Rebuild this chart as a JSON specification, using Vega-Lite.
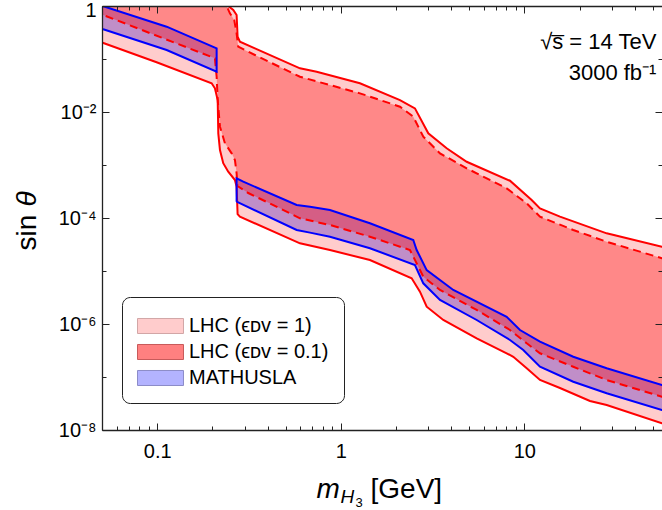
{
  "$schema": "https://vega.github.io/schema/vega-lite/v6.json",
  "width": 560,
  "height": 424,
  "autosize": "none",
  "padding": {"left": 102, "top": 6, "right": 0, "bottom": 80},
  "config": {"view": {"stroke": null}, "font": "Liberation Sans"},
  "datasets": {
    "poly": [
      {"p":"L1","o":1,"x":0.045,"y":0.2344},
      {"p":"L1","o":2,"x":0.0504,"y":0.203},
      {"p":"L1","o":3,"x":0.0992,"y":0.087},
      {"p":"L1","o":4,"x":0.1979,"y":0.0348},
      {"p":"L1","o":5,"x":0.2062,"y":0.028},
      {"p":"L1","o":6,"x":0.2135,"y":0.0168},
      {"p":"L1","o":7,"x":0.2151,"y":0.00396},
      {"p":"L1","o":8,"x":0.2197,"y":0.00192},
      {"p":"L1","o":9,"x":0.2289,"y":0.00108},
      {"p":"L1","o":10,"x":0.2437,"y":0.000747},
      {"p":"L1","o":11,"x":0.2651,"y":0.000521},
      {"p":"L1","o":12,"x":0.2707,"y":0.00039},
      {"p":"L1","o":13,"x":0.2741,"y":0.000118},
      {"p":"L1","o":14,"x":0.2822,"y":0.000106},
      {"p":"L1","o":15,"x":0.5994,"y":0.0000333},
      {"p":"L1","o":16,"x":0.8731,"y":0.0000249},
      {"p":"L1","o":17,"x":1.442,"y":0.0000161},
      {"p":"L1","o":18,"x":2.434,"y":7.29e-6},
      {"p":"L1","o":19,"x":2.701,"y":4.07e-6},
      {"p":"L1","o":20,"x":2.939,"y":2.12e-6},
      {"p":"L1","o":21,"x":3.62,"y":1.19e-6},
      {"p":"L1","o":22,"x":5.504,"y":5.37e-7},
      {"p":"L1","o":23,"x":8.018,"y":2.8e-7},
      {"p":"L1","o":24,"x":8.712,"y":2.41e-7},
      {"p":"L1","o":25,"x":10.31,"y":1.46e-7},
      {"p":"L1","o":26,"x":12.18,"y":8.78e-8},
      {"p":"L1","o":27,"x":15.65,"y":6.2e-8},
      {"p":"L1","o":28,"x":22.8,"y":3.52e-8},
      {"p":"L1","o":29,"x":28.12,"y":2.96e-8},
      {"p":"L1","o":30,"x":56.3,"y":1.34e-8},
      {"p":"L1","o":31,"x":62.2,"y":1.2e-8},
      {"p":"L1","o":32,"x":62.2,"y":2.6e-5},
      {"p":"L1","o":33,"x":56.3,"y":2.87e-5},
      {"p":"L1","o":34,"x":28.12,"y":5.14e-5},
      {"p":"L1","o":35,"x":15.65,"y":0.000106},
      {"p":"L1","o":36,"x":12.18,"y":0.000152},
      {"p":"L1","o":37,"x":10.97,"y":0.000219},
      {"p":"L1","o":38,"x":8.357,"y":0.000505},
      {"p":"L1","o":39,"x":4.855,"y":0.00115},
      {"p":"L1","o":40,"x":3.777,"y":0.00207},
      {"p":"L1","o":41,"x":2.999,"y":0.00396},
      {"p":"L1","o":42,"x":2.537,"y":0.0117},
      {"p":"L1","o":43,"x":2.102,"y":0.0168},
      {"p":"L1","o":44,"x":1.272,"y":0.0348},
      {"p":"L1","o":45,"x":0.7392,"y":0.0576},
      {"p":"L1","o":46,"x":0.5994,"y":0.0667},
      {"p":"L1","o":47,"x":0.3406,"y":0.159},
      {"p":"L1","o":48,"x":0.2822,"y":0.212},
      {"p":"L1","o":49,"x":0.2741,"y":0.2635},
      {"p":"L1","o":50,"x":0.2707,"y":0.676},
      {"p":"L1","o":51,"x":0.2596,"y":0.84},
      {"p":"L1","o":52,"x":0.2437,"y":1.0},
      {"p":"L1","o":53,"x":0.2252,"y":3.09},
      {"p":"L1","o":54,"x":0.045,"y":3.09},

      {"p":"L01","o":1,"x":0.045,"y":0.798},
      {"p":"L01","o":2,"x":0.0508,"y":0.676},
      {"p":"L01","o":3,"x":0.2062,"y":0.1031},
      {"p":"L01","o":4,"x":0.2107,"y":0.0463},
      {"p":"L01","o":5,"x":0.2135,"y":0.0168},
      {"p":"L01","o":6,"x":0.2197,"y":0.00528},
      {"p":"L01","o":7,"x":0.2338,"y":0.00257},
      {"p":"L01","o":8,"x":0.2543,"y":0.00166},
      {"p":"L01","o":9,"x":0.2651,"y":0.00124},
      {"p":"L01","o":10,"x":0.2707,"y":0.000697},
      {"p":"L01","o":11,"x":0.2735,"y":0.000402},
      {"p":"L01","o":12,"x":0.3132,"y":0.000296},
      {"p":"L01","o":13,"x":0.4664,"y":0.000152},
      {"p":"L01","o":14,"x":0.5994,"y":0.0000987},
      {"p":"L01","o":15,"x":0.8731,"y":0.0000738},
      {"p":"L01","o":16,"x":1.442,"y":0.0000444},
      {"p":"L01","o":17,"x":2.383,"y":0.0000249},
      {"p":"L01","o":18,"x":2.644,"y":0.0000121},
      {"p":"L01","o":19,"x":2.817,"y":7.81e-6},
      {"p":"L01","o":20,"x":3.473,"y":4.38e-6},
      {"p":"L01","o":21,"x":5.504,"y":1.84e-6},
      {"p":"L01","o":22,"x":8.357,"y":7.7e-7},
      {"p":"L01","o":23,"x":10.31,"y":4.32e-7},
      {"p":"L01","o":24,"x":12.18,"y":2.8e-7},
      {"p":"L01","o":25,"x":18.49,"y":1.56e-7},
      {"p":"L01","o":26,"x":28.12,"y":8.78e-8},
      {"p":"L01","o":27,"x":56.3,"y":4.25e-8},
      {"p":"L01","o":28,"x":62.2,"y":3.85e-8},
      {"p":"L01","o":29,"x":62.2,"y":1.55e-5},
      {"p":"L01","o":30,"x":56.3,"y":1.74e-5},
      {"p":"L01","o":31,"x":28.12,"y":3.57e-5},
      {"p":"L01","o":32,"x":18.49,"y":5.94e-5},
      {"p":"L01","o":33,"x":12.18,"y":0.000106},
      {"p":"L01","o":34,"x":10.31,"y":0.000189},
      {"p":"L01","o":35,"x":8.018,"y":0.000363},
      {"p":"L01","o":36,"x":4.855,"y":0.000866},
      {"p":"L01","o":37,"x":3.473,"y":0.00166},
      {"p":"L01","o":38,"x":2.817,"y":0.00342},
      {"p":"L01","o":39,"x":2.484,"y":0.00815},
      {"p":"L01","o":40,"x":2.102,"y":0.0126},
      {"p":"L01","o":41,"x":1.272,"y":0.0225},
      {"p":"L01","o":42,"x":0.5994,"y":0.0463},
      {"p":"L01","o":43,"x":0.3406,"y":0.119},
      {"p":"L01","o":44,"x":0.3132,"y":0.137},
      {"p":"L01","o":45,"x":0.2762,"y":0.171},
      {"p":"L01","o":46,"x":0.2707,"y":0.305},
      {"p":"L01","o":47,"x":0.2628,"y":0.544},
      {"p":"L01","o":48,"x":0.2489,"y":0.728},
      {"p":"L01","o":49,"x":0.2388,"y":1.0},
      {"p":"L01","o":50,"x":0.2224,"y":3.0},
      {"p":"L01","o":51,"x":0.045,"y":3.0},

      {"p":"M1","o":1,"x":0.045,"y":1.159},
      {"p":"M1","o":2,"x":0.0504,"y":1.0},
      {"p":"M1","o":3,"x":0.1125,"y":0.407},
      {"p":"M1","o":4,"x":0.2107,"y":0.159},
      {"p":"M1","o":5,"x":0.2107,"y":0.0576},
      {"p":"M1","o":6,"x":0.1125,"y":0.148},
      {"p":"M1","o":7,"x":0.0508,"y":0.363},
      {"p":"M1","o":8,"x":0.045,"y":0.421},

      {"p":"M2","o":1,"x":0.2707,"y":0.000203},
      {"p":"M2","o":2,"x":0.2707,"y":0.000561},
      {"p":"M2","o":3,"x":0.2942,"y":0.000484},
      {"p":"M2","o":4,"x":0.575,"y":0.000176},
      {"p":"M2","o":5,"x":0.6795,"y":0.000163},
      {"p":"M2","o":6,"x":0.8731,"y":0.000142},
      {"p":"M2","o":7,"x":1.442,"y":0.0000794},
      {"p":"M2","o":8,"x":2.484,"y":0.0000384},
      {"p":"M2","o":9,"x":2.592,"y":0.0000249},
      {"p":"M2","o":10,"x":2.939,"y":0.0000104},
      {"p":"M2","o":11,"x":4.104,"y":4.38e-6},
      {"p":"M2","o":12,"x":8.018,"y":1.37e-6},
      {"p":"M2","o":13,"x":9.476,"y":7.7e-7},
      {"p":"M2","o":14,"x":12.18,"y":4.63e-7},
      {"p":"M2","o":15,"x":18.49,"y":2.41e-7},
      {"p":"M2","o":16,"x":28.12,"y":1.46e-7},
      {"p":"M2","o":17,"x":56.3,"y":7.06e-8},
      {"p":"M2","o":18,"x":62.2,"y":6.34e-8},
      {"p":"M2","o":19,"x":62.2,"y":2.14e-8},
      {"p":"M2","o":20,"x":56.3,"y":2.38e-8},
      {"p":"M2","o":21,"x":28.12,"y":4.93e-8},
      {"p":"M2","o":22,"x":18.49,"y":8.15e-8},
      {"p":"M2","o":23,"x":12.18,"y":1.56e-7},
      {"p":"M2","o":24,"x":9.876,"y":3.23e-7},
      {"p":"M2","o":25,"x":8.357,"y":4.99e-7},
      {"p":"M2","o":26,"x":5.504,"y":1.19e-6},
      {"p":"M2","o":27,"x":3.473,"y":2.84e-6},
      {"p":"M2","o":28,"x":2.817,"y":5.86e-6},
      {"p":"M2","o":29,"x":2.537,"y":1.3e-5},
      {"p":"M2","o":30,"x":1.442,"y":2.68e-5},
      {"p":"M2","o":31,"x":0.8731,"y":4.44e-5},
      {"p":"M2","o":32,"x":0.6795,"y":5.3e-5},
      {"p":"M2","o":33,"x":0.575,"y":5.94e-5},
      {"p":"M2","o":34,"x":0.2707,"y":0.000203}
    ]
  },
  "resolve": {"axis": {"x": "independent", "y": "independent"}, "scale": {"fill": "independent", "stroke": "independent"}},
  "layer": [
    {
      "data": {"name": "poly"},
      "transform": [{"filter": "datum.p == 'L1'"}],
      "mark": {"type": "line", "strokeWidth": 0, "fillOpacity": 1, "clip": true},
      "encoding": {
        "x": {"field": "x", "type": "quantitative", "scale": {"type": "log", "domain": [0.05, 56.3], "nice": false},
          "axis": {"orient": "bottom", "values": [0.1, 1, 10], "labelExpr": "datum.value < 0.5 ? '0.1' : datum.value < 5 ? '1' : '10'", "tickSize": -7, "tickColor": "#222", "tickWidth": 1, "domainColor": "#222", "domainWidth": 1.3, "labelFontSize": 20, "labelColor": "#000", "labelPadding": 18, "labelFlush": false, "grid": false, "zindex": 2,
            "title": "m", "titleFontStyle": "italic", "titleFontWeight": "normal", "titleFontSize": 28, "titleColor": "#000", "titleAlign": "left", "titleBaseline": "alphabetic", "titleAnchor": null, "titleX": 214, "titleY": 67}},
        "y": {"field": "y", "type": "quantitative", "scale": {"type": "log", "domain": [1e-8, 1], "nice": false},
          "axis": {"orient": "left", "values": [1, 0.01, 0.0001, 0.000001, 0.00000001], "labelExpr": "datum.value > 0.5 ? '1' : datum.value > 1e-3 ? '10⁻²' : datum.value > 1e-5 ? '10⁻⁴' : datum.value > 1e-7 ? '10⁻⁶' : '10⁻⁸'", "tickSize": -7, "tickColor": "#222", "tickWidth": 1, "domainColor": "#222", "domainWidth": 1.3, "labelFontSize": 20, "labelColor": "#000", "labelPadding": 13, "labelFlush": false, "grid": false, "zindex": 2,
            "labelOffset": {"condition": {"test": "datum.value > 0.5", "value": 4}, "value": 0},
            "title": "sin", "titleFontWeight": "normal", "titleFontSize": 28, "titleColor": "#000", "titleAngle": 270, "titleAlign": "left", "titleBaseline": "alphabetic", "titleAnchor": null, "titleX": -67, "titleY": 244}},
        "fill": {"field": "p", "type": "nominal", "scale": {"domain": ["L1"], "range": ["#ffcccc"]}, "legend": null},
        "order": {"field": "o", "type": "quantitative"}
      }
    },
    {
      "data": {"name": "poly"},
      "transform": [{"filter": "datum.p == 'M1' || datum.p == 'M2'"}],
      "mark": {"type": "line", "strokeWidth": 0, "fillOpacity": 0.3, "clip": true},
      "encoding": {
        "x": {"field": "x", "type": "quantitative", "scale": {"type": "log", "domain": [0.05, 56.3], "nice": false},
          "axis": {"orient": "bottom", "values": [0.05, 0.06, 0.07, 0.08, 0.09, 0.2, 0.3, 0.4, 0.5, 0.6, 0.7, 0.8, 0.9, 2, 3, 4, 5, 6, 7, 8, 9, 20, 30, 40, 50], "labels": false, "domain": false, "tickSize": -4, "tickColor": "#222", "tickWidth": 1, "grid": false, "zindex": 2,
            "title": "H", "titleFontStyle": "italic", "titleFontWeight": "normal", "titleFontSize": 19, "titleColor": "#000", "titleAlign": "left", "titleBaseline": "alphabetic", "titleAnchor": null, "titleX": 238, "titleY": 72}},
        "y": {"field": "y", "type": "quantitative", "scale": {"type": "log", "domain": [1e-8, 1], "nice": false},
          "axis": {"orient": "left", "values": [0.1, 0.001, 0.00001, 0.0000001], "labels": false, "domain": false, "tickSize": -4, "tickColor": "#222", "tickWidth": 1, "grid": false, "zindex": 2,
            "title": "θ", "titleFontStyle": "italic", "titleFontWeight": "normal", "titleFontSize": 28, "titleColor": "#000", "titleAngle": 270, "titleAlign": "left", "titleBaseline": "alphabetic", "titleAnchor": null, "titleX": -67, "titleY": 200}},
        "fill": {"field": "p", "type": "nominal", "scale": {"domain": ["M1", "M2"], "range": ["#3000c0", "#3000c0"]}, "legend": null},
        "order": {"field": "o", "type": "quantitative"}
      }
    },
    {
      "data": {"name": "poly"},
      "transform": [{"filter": "datum.p == 'L01'"}],
      "mark": {"type": "line", "strokeWidth": 0, "fillOpacity": 0.333, "clip": true},
      "encoding": {
        "x": {"field": "x", "type": "quantitative", "scale": {"type": "log", "domain": [0.05, 56.3], "nice": false},
          "axis": {"orient": "top", "values": [0.1, 1, 10], "labels": false, "tickSize": -7, "tickColor": "#222", "tickWidth": 1, "domainColor": "#222", "domainWidth": 1.3, "grid": false, "zindex": 2,
            "title": "3", "titleFontWeight": "normal", "titleFontSize": 13, "titleColor": "#000", "titleAlign": "left", "titleBaseline": "alphabetic", "titleAnchor": null, "titleX": 253, "titleY": 500}},
        "y": {"field": "y", "type": "quantitative", "scale": {"type": "log", "domain": [1e-8, 1], "nice": false},
          "axis": {"orient": "right", "values": [0.01, 0.0001, 0.000001], "labels": false, "domain": false, "tickSize": -7, "tickColor": "#222", "tickWidth": 1, "grid": false, "zindex": 2, "title": null}},
        "fill": {"field": "p", "type": "nominal", "scale": {"domain": ["L01"], "range": ["#ff0000"]}, "legend": null},
        "order": {"field": "o", "type": "quantitative"}
      }
    },
    {
      "data": {"name": "poly"},
      "transform": [{"filter": "datum.p == 'L1'"}],
      "mark": {"type": "line", "color": "#ff0000", "strokeWidth": 2, "clip": true},
      "encoding": {
        "x": {"field": "x", "type": "quantitative", "scale": {"type": "log", "domain": [0.05, 56.3], "nice": false},
          "axis": {"orient": "top", "values": [0.05, 0.06, 0.07, 0.08, 0.09, 0.2, 0.3, 0.4, 0.5, 0.6, 0.7, 0.8, 0.9, 2, 3, 4, 5, 6, 7, 8, 9, 20, 30, 40, 50], "labels": false, "domain": false, "tickSize": -4, "tickColor": "#222", "tickWidth": 1, "grid": false, "zindex": 2,
            "title": "[GeV]", "titleFontWeight": "normal", "titleFontSize": 28, "titleColor": "#000", "titleAlign": "left", "titleBaseline": "alphabetic", "titleAnchor": null, "titleX": 268, "titleY": 491}},
        "y": {"field": "y", "type": "quantitative", "scale": {"type": "log", "domain": [1e-8, 1], "nice": false},
          "axis": {"orient": "right", "values": [0.1, 0.001, 0.00001, 0.0000001], "labels": false, "domain": false, "tickSize": -4, "tickColor": "#222", "tickWidth": 1, "grid": false, "zindex": 2, "title": null}},
        "order": {"field": "o", "type": "quantitative"}
      }
    },
    {
      "data": {"name": "poly"},
      "transform": [{"filter": "datum.p == 'L01'"}],
      "mark": {"type": "line", "color": "#ff0000", "strokeWidth": 2, "strokeDash": [8, 5], "clip": true},
      "encoding": {
        "x": {"field": "x", "type": "quantitative", "scale": {"type": "log", "domain": [0.05, 56.3], "nice": false}, "axis": null},
        "y": {"field": "y", "type": "quantitative", "scale": {"type": "log", "domain": [1e-8, 1], "nice": false}, "axis": null},
        "order": {"field": "o", "type": "quantitative"}
      }
    },
    {
      "data": {"name": "poly"},
      "transform": [{"filter": "datum.p == 'M1' || datum.p == 'M2'"}],
      "mark": {"type": "line", "color": "#0000ff", "strokeWidth": 2, "clip": true},
      "encoding": {
        "x": {"field": "x", "type": "quantitative", "scale": {"type": "log", "domain": [0.05, 56.3], "nice": false}, "axis": null},
        "y": {"field": "y", "type": "quantitative", "scale": {"type": "log", "domain": [1e-8, 1], "nice": false}, "axis": null},
        "detail": {"field": "p", "type": "nominal"},
        "order": {"field": "o", "type": "quantitative"}
      }
    },
    {
      "data": {"name": "poly"},
      "transform": [{"filter": "datum.o == 1 && datum.p != 'M2'"}],
      "mark": {"type": "square", "opacity": 0, "clip": true},
      "encoding": {
        "x": {"field": "x", "type": "quantitative", "scale": {"type": "log", "domain": [0.05, 56.3], "nice": false}, "axis": null},
        "y": {"field": "y", "type": "quantitative", "scale": {"type": "log", "domain": [1e-8, 1], "nice": false}, "axis": null},
        "fill": {"field": "p", "type": "nominal", "scale": {"domain": ["L1", "L01", "M1"], "range": ["#ffcccc", "#ff8080", "#b3b3ff"]},
          "legend": {"orient": "none", "legendX": 20, "legendY": 291, "title": null,
            "labelExpr": "datum.value == 'L1' ? 'LHC (ϵᴅᴠ = 1)' : datum.value == 'L01' ? 'LHC (ϵᴅᴠ = 0.1)' : 'MATHUSLA'",
            "symbolType": "M-1,-0.556H2.407V0.556H-1Z", "symbolSize": 729, "symbolOpacity": 1, "symbolStrokeWidth": 1, "labelFontSize": 20, "labelFont": "Liberation Sans", "labelColor": "#000", "labelOffset": 24, "labelLimit": 300,
            "padding": 15, "rowPadding": 2, "fillColor": "#ffffff", "strokeColor": "#222", "cornerRadius": 8}},
        "stroke": {"field": "p", "type": "nominal", "scale": {"domain": ["L1", "L01", "M1"], "range": ["#d2a6a6", "#c85a5a", "#8c8cc8"]},
          "legend": {"orient": "none", "legendX": 20, "legendY": 291, "title": null,
            "labelExpr": "datum.value == 'L1' ? 'LHC (ϵᴅᴠ = 1)' : datum.value == 'L01' ? 'LHC (ϵᴅᴠ = 0.1)' : 'MATHUSLA'",
            "symbolType": "M-1,-0.556H2.407V0.556H-1Z", "symbolSize": 729, "symbolOpacity": 1, "symbolStrokeWidth": 1, "labelFontSize": 20, "labelFont": "Liberation Sans", "labelColor": "#000", "labelOffset": 24, "labelLimit": 300,
            "padding": 15, "rowPadding": 2, "fillColor": "#ffffff", "strokeColor": "#222", "cornerRadius": 8}}
      }
    },
    {
      "data": {"values": [{}]},
      "mark": {"type": "text", "align": "right", "baseline": "alphabetic", "fontSize": 22, "font": "Liberation Sans", "color": "#000"},
      "encoding": {
        "x": {"datum": 52.5, "type": "quantitative", "scale": {"type": "log", "domain": [0.05, 56.3], "nice": false}, "axis": null},
        "y": {"datum": 0.1545, "type": "quantitative", "scale": {"type": "log", "domain": [1e-8, 1], "nice": false}, "axis": null},
        "text": {"value": "√s̅ = 14 TeV"}
      }
    },
    {
      "data": {"values": [{}]},
      "mark": {"type": "text", "align": "right", "baseline": "alphabetic", "fontSize": 22, "font": "Liberation Sans", "color": "#000"},
      "encoding": {
        "x": {"datum": 52.5, "type": "quantitative", "scale": {"type": "log", "domain": [0.05, 56.3], "nice": false}, "axis": null},
        "y": {"datum": 0.0402, "type": "quantitative", "scale": {"type": "log", "domain": [1e-8, 1], "nice": false}, "axis": null},
        "text": {"value": "3000 fb⁻¹"}
      }
    }
  ]
}
